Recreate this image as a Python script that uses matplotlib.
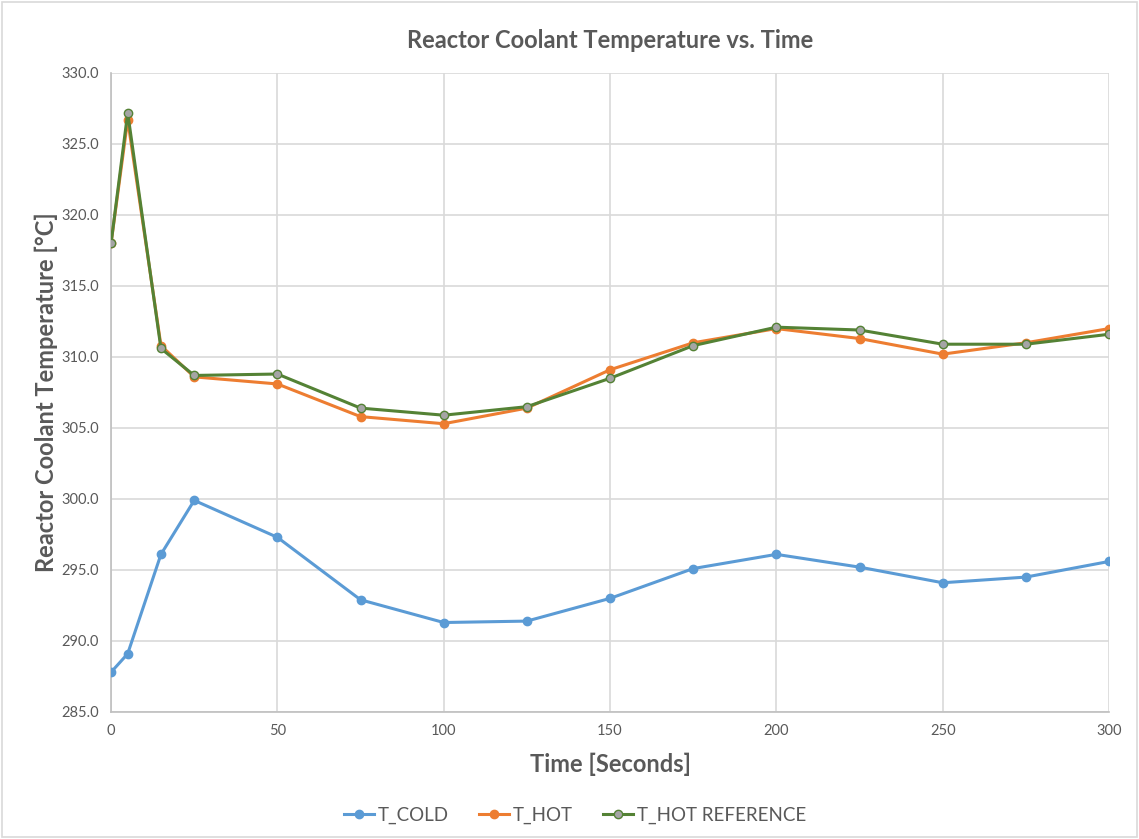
import numpy as np
import matplotlib
matplotlib.use("Agg")
import matplotlib.pyplot as plt
from matplotlib.patches import Rectangle

plt.rcParams['font.family'] = ['Lato', 'DejaVu Sans']

# data
time_s = [0, 5, 15, 25, 50, 75, 100, 125, 150, 175, 200, 225, 250, 275, 300]
t_cold = [287.8, 289.1, 296.1, 299.9, 297.3, 292.9, 291.3, 291.4, 293.0,
          295.1, 296.1, 295.2, 294.1, 294.5, 295.6]
t_hot = [318.0, 326.7, 310.8, 308.6, 308.1, 305.8, 305.3, 306.4, 309.1,
         311.0, 312.0, 311.3, 310.2, 311.0, 312.0]
t_hot_ref = [318.0, 327.2, 310.6, 308.7, 308.8, 306.4, 305.9, 306.5, 308.5,
             310.8, 312.1, 311.9, 310.9, 310.9, 311.6]

txt = "#595959"
grid = "#d9d9d9"

fig = plt.figure(figsize=(11.39, 8.39), dpi=100)
ax = fig.add_axes([0.0975, 0.1514, 0.8762, 0.7616])

ax.plot(time_s, t_cold, color="#5B9BD5", lw=2.2, marker="o", ms=6,
        label="T_COLD", zorder=3)
ax.plot(time_s, t_hot, color="#ED7D31", lw=2.2, marker="o", ms=6,
        label="T_HOT", zorder=4)
ax.plot(time_s, t_hot_ref, color="#548235", lw=2.2, marker="o", ms=6,
        mfc="#A5A5A5", mec="#548235", mew=1.0, label="T_HOT REFERENCE", zorder=5)

ax.set_xlim(0, 300)
ax.set_ylim(285, 330)
ax.set_xticks(np.arange(0, 301, 50))
ax.set_yticks(np.arange(285, 330.1, 5))
ax.yaxis.set_major_formatter(matplotlib.ticker.FormatStrFormatter("%.1f"))
ax.tick_params(length=0, labelsize=10.5, colors=txt, pad=9)

ax.grid(True, color=grid, lw=1.2)
ax.set_axisbelow(True)
for s in ["top", "right"]:
    ax.spines[s].set_visible(False)
for s in ["left", "bottom"]:
    ax.spines[s].set_color("#bfbfbf")
    ax.spines[s].set_linewidth(1.2)

ax.set_title("Reactor Coolant Temperature vs. Time", fontsize=17,
             fontweight="bold", color=txt, pad=18)
ax.set_xlabel("Time [Seconds]", fontsize=17, fontweight="bold", color=txt, labelpad=10)
ax.set_ylabel("Reactor Coolant Temperature [°C]", fontsize=17, fontweight="bold",
              color=txt, labelpad=2)

fig.legend(loc="center", bbox_to_anchor=(0.505, 0.028), ncol=3, frameon=False,
           fontsize=13.5, labelcolor=txt, handlelength=1.6, handletextpad=0.2,
           columnspacing=1.6)

fig.patches.append(Rectangle((0.002, 0.002), 0.996, 0.996, transform=fig.transFigure,
                             fill=False, edgecolor="#d9d9d9", lw=1.2))

fig.savefig("out.png", dpi=100)
